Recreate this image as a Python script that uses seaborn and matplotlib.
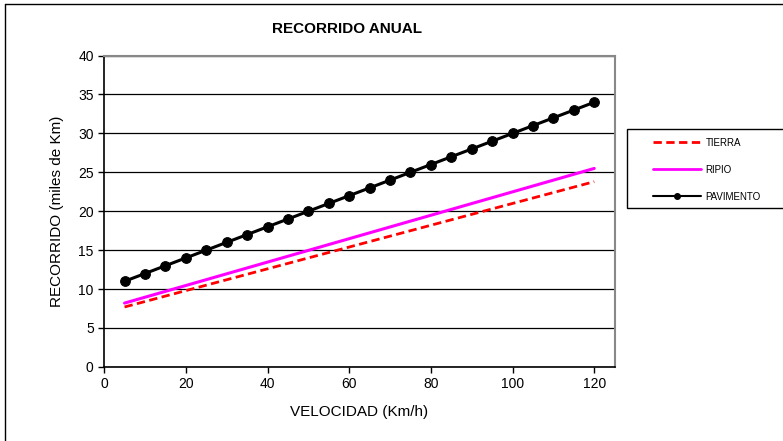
import pandas as pd
import seaborn as sns
import matplotlib.pyplot as plt
from matplotlib.lines import Line2D
from matplotlib.patches import Rectangle

# -------- DATA --------
vel_pav = [5, 10, 15, 20, 25, 30, 35, 40, 45, 50, 55, 60,
           65, 70, 75, 80, 85, 90, 95, 100, 105, 110, 115, 120]
rec_pav = [11, 12, 13, 14, 15, 16, 17, 18, 19, 20, 21, 22,
           23, 24, 25, 26, 27, 28, 29, 30, 31, 32, 33, 34]
vel_tierra = [5, 120]
rec_tierra = [7.7, 23.8]
vel_ripio = [5, 120]
rec_ripio = [8.2, 25.5]

df_pav = pd.DataFrame({'vel': vel_pav, 'rec': rec_pav})
df_tierra = pd.DataFrame({'vel': vel_tierra, 'rec': rec_tierra})
df_ripio = pd.DataFrame({'vel': vel_ripio, 'rec': rec_ripio})

# -------- PLOT --------
sns.set_style('white')
plt.rcParams['font.family'] = ['Liberation Sans', 'DejaVu Sans']
plt.rcParams['text.color'] = 'black'
plt.rcParams['axes.labelcolor'] = 'black'
plt.rcParams['xtick.color'] = 'black'
plt.rcParams['ytick.color'] = 'black'

fig = plt.figure(figsize=(7.83, 4.41), dpi=100)
ax = fig.add_axes([0.133, 0.168, 0.652, 0.706])

dash = (0, (3, 1.6))
sns.lineplot(data=df_tierra, x='vel', y='rec', ax=ax, color='#ff0000',
             linewidth=2, linestyle=dash)
sns.lineplot(data=df_ripio, x='vel', y='rec', ax=ax, color='#ff00ff', linewidth=2.2)
sns.lineplot(data=df_pav, x='vel', y='rec', ax=ax, color='black', linewidth=2.2,
             marker='o', markersize=7, markeredgecolor='black')

ax.set_xlim(0, 125)
ax.set_ylim(0, 40)
ax.set_xticks(range(0, 121, 20))
ax.set_yticks(range(0, 41, 5))
ax.yaxis.grid(True, color='black', linewidth=0.9)
ax.set_axisbelow(True)
ax.tick_params(direction='out', length=4, width=1, labelsize=10,
               left=True, bottom=True)
for side in ['left', 'bottom']:
    ax.spines[side].set_color('black')
    ax.spines[side].set_linewidth(1.2)
for side in ['top', 'right']:
    ax.spines[side].set_color('#888888')
    ax.spines[side].set_linewidth(1.5)

ax.set_xlabel('VELOCIDAD (Km/h)', fontsize=11, labelpad=10)
ax.set_ylabel('RECORRIDO (miles de Km)', fontsize=11, labelpad=10)
fig.text(0.443, 0.935, 'RECORRIDO ANUAL', ha='center', va='center',
         fontsize=11, fontweight='bold')

# legend box runs off the right edge, like the original
fig.add_artist(Rectangle((627 / 783, 1 - 208 / 441), 0.3, 79 / 441,
                         transform=fig.transFigure, facecolor='white',
                         edgecolor='black', linewidth=1))
handles = [
    Line2D([], [], color='#ff0000', linewidth=2, linestyle=dash),
    Line2D([], [], color='#ff00ff', linewidth=2),
    Line2D([], [], color='black', linewidth=1.5, marker='o', markersize=4),
]
fig.legend(handles, ['TIERRA', 'RIPIO', 'PAVIMENTO'],
           loc='upper left', bbox_to_anchor=(648 / 783, 1 - 133 / 441),
           fontsize=7, frameon=False,
           handlelength=5.0, labelspacing=1.75, borderpad=0.5,
           handletextpad=0.4, borderaxespad=0)

# outer chart border (top and left visible)
fig.add_artist(Line2D([5 / 783, 1.0], [1 - 4 / 441, 1 - 4 / 441],
                      transform=fig.transFigure, color='black', linewidth=1))
fig.add_artist(Line2D([5 / 783, 5 / 783], [0.0, 1 - 4 / 441],
                      transform=fig.transFigure, color='black', linewidth=1))

fig.savefig('out.png', dpi=100)
